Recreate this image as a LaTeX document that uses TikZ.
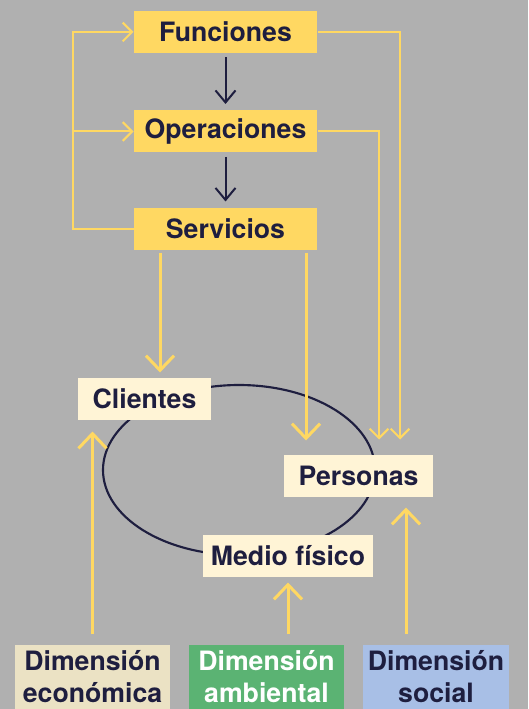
\documentclass[tikz,border=0pt]{standalone}
\usepackage{fontspec}
\setmainfont{TeX Gyre Heros}
\usetikzlibrary{arrows.meta}

\definecolor{fondo}{RGB}{176,176,176}
\definecolor{amarillo}{RGB}{255,216,98}
\definecolor{crema}{RGB}{255,244,214}
\definecolor{beige}{RGB}{235,226,196}
\definecolor{verde}{RGB}{91,179,115}
\definecolor{azul}{RGB}{168,191,230}
\definecolor{tinta}{RGB}{30,30,63}

\tikzset{every picture/.style={line width=0.75pt}}
\tikzset{
  rotulo/.style={text=tinta, inner sep=0pt, font=\bfseries\fontsize{20}{24}\selectfont},
  nivel/.style={rotulo, fill=amarillo, minimum width=137.25pt, minimum height=31.5pt},
  actor/.style={rotulo, fill=crema, minimum height=31.5pt},
  dimension/.style={rotulo, minimum height=48pt, align=center},
  flecha/.style={draw=amarillo, line width=2.25pt, -{Straight Barb[length=11pt,width=21pt]}},
  retorno/.style={draw=amarillo, line width=1.5pt},
  punta/.style={-{Straight Barb[length=7pt,width=14pt]}},
  bajada/.style={draw=tinta, line width=1.5pt, -{Straight Barb[length=9pt,width=15pt]}}
}

\begin{document}
\begin{tikzpicture}[x=0.75pt,y=0.75pt,yscale=-1,xscale=1]

\fill [fondo] (0,0) rectangle (528,709);
\useasboundingbox (0,0) rectangle (528,709);

% entorno
\draw [tinta, line width=1.6pt] (239,470) ellipse [x radius=136, y radius=85];

% niveles
\node [nivel] (Funciones) at (225.5,32) {Funciones};
\node [nivel] (Operaciones) at (225.5,131.5) {Operaciones};
\node [nivel] (Servicios) at (225.5,229) {Servicios};

% actores
\node [actor, minimum width=99.75pt] (Clientes) at (144.5,399) {Clientes};
\node [actor, minimum width=111.75pt] (Personas) at (358.5,476) {Personas};
\node [actor, minimum width=127.5pt] (Medio) at (288,556) {Medio físico};

% dimensiones
\node [dimension, fill=beige, minimum width=116.25pt] (Economica) at (92.5,677) {Dimensión\\económica};
\node [dimension, fill=verde, text=white, minimum width=116.25pt] (Ambiental) at (266.5,677) {Dimensión\\ambiental};
\node [dimension, fill=azul, minimum width=109.5pt] (Social) at (436,677) {Dimensión\\social};

\coordinate (bucle) at (73,0);
\coordinate (derF) at (400,0);
\coordinate (derO) at (379,0);
\coordinate (baja1) at (160,0);
\coordinate (baja2) at (306,0);
\coordinate (sube) at (406,0);

% cadena principal
\draw [bajada, shorten <=3pt, shorten >=4.5pt] (Funciones.south) -- (Operaciones.north);
\draw [bajada, shorten <=3pt, shorten >=4.5pt] (Operaciones.south) -- (Servicios.north);

% retroalimentacion
\draw [retorno, punta] (Servicios.west) -| (bucle |- Funciones.west) -- (Funciones.west);
\draw [retorno, punta] (bucle |- Operaciones.west) -- (Operaciones.west);
\draw [retorno, punta, shorten >=11.25pt] (Funciones.east) -| (derF |- Personas.north);
\draw [retorno, punta, shorten >=11.25pt] (Operaciones.east) -| (derO |- Personas.north);

% servicios hacia el entorno
\draw [flecha, shorten <=1.5pt, shorten >=3.75pt] (baja1 |- Servicios.south) -- (baja1 |- Clientes.north);
\draw [flecha, shorten <=1.5pt, shorten >=10.5pt] (baja2 |- Servicios.south) -- (baja2 |- Personas.north);

% dimensiones hacia el entorno
\draw [flecha, shorten <=8.25pt, shorten >=8.25pt] (Economica.north) -- (Economica.north |- Clientes.south);
\draw [flecha, shorten <=8.25pt, shorten >=3.75pt] (Medio.south |- Ambiental.north) -- (Medio.south);
\draw [flecha, shorten <=8.25pt, shorten >=7.5pt] (sube |- Social.north) -- (sube |- Personas.south);

\end{tikzpicture}
\end{document}
